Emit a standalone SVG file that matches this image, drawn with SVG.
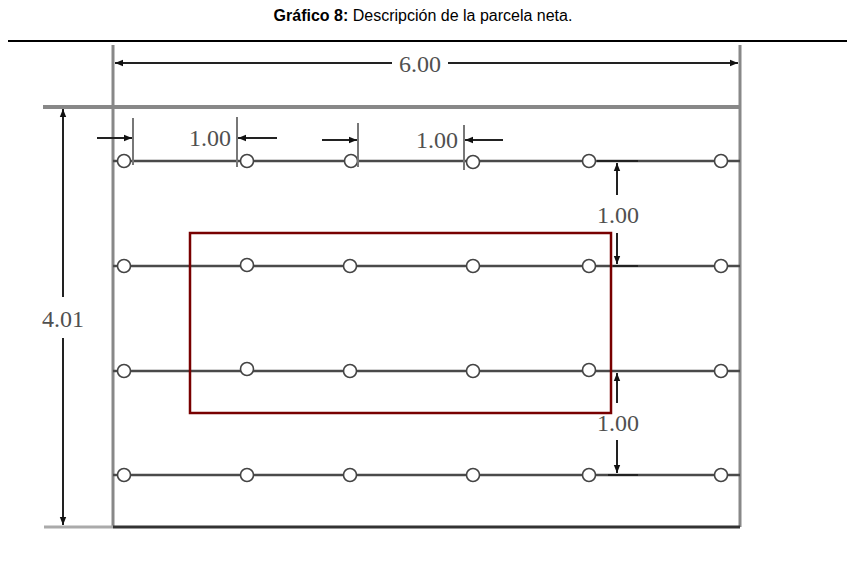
<svg xmlns="http://www.w3.org/2000/svg" width="847" height="581" viewBox="0 0 847 581">
<style>
.title{font-family:"Liberation Sans",Arial,sans-serif;font-size:16px;fill:#000}
.dim{font-family:"Liberation Serif","Times New Roman",serif;font-size:24px;fill:#505050}
.frame{stroke:#888;stroke-width:3;fill:none}
.row{stroke:#4a4a4a;stroke-width:2.5;fill:none}
.dl{stroke:#222;stroke-width:2;fill:none}
.tk{stroke:#777;stroke-width:2;fill:none}
.plant{fill:#fff;stroke:#444;stroke-width:1.6}
</style>
<defs>
<marker id="ah" viewBox="0 0 10 10" refX="10" refY="5" markerWidth="8" markerHeight="8" markerUnits="userSpaceOnUse" orient="auto-start-reverse">
<path d="M0,1 L10,5 L0,9 z" fill="#111"/>
</marker>
</defs>
<rect width="847" height="581" fill="#fff"/>
<g id="title">
<text class="title" x="423" y="21" text-anchor="middle"><tspan font-weight="bold">Gráfico 8:</tspan> Descripción de la parcela neta.</text>
<line x1="8" y1="41" x2="847" y2="41" stroke="#000" stroke-width="2"/>
</g>
<g id="frame">
<line class="frame" x1="113" y1="45" x2="113" y2="527"/>
<line class="frame" x1="740" y1="45" x2="740" y2="527"/>
<line x1="43" y1="107" x2="740" y2="107" stroke="#888" stroke-width="4"/>
<line x1="44" y1="527" x2="113" y2="527" stroke="#aaa" stroke-width="3"/>
<line x1="113" y1="527" x2="740" y2="527" stroke="#333" stroke-width="3"/>
</g>
<g id="connectors">
<line class="row" x1="113" y1="161" x2="740" y2="161"/>
<line class="row" x1="113" y1="266" x2="740" y2="266"/>
<line class="row" x1="113" y1="371" x2="740" y2="371"/>
<line class="row" x1="113" y1="475" x2="740" y2="475"/>
</g>
<g id="net-plot">
<rect x="190" y="233" width="421" height="180" fill="none" stroke="#780000" stroke-width="2.5"/>
</g>
<g id="plants">
<g id="p-1-1"><circle class="plant" cx="124" cy="161" r="6.5"/></g>
<g id="p-1-2"><circle class="plant" cx="247" cy="161" r="6.5"/></g>
<g id="p-1-3"><circle class="plant" cx="351" cy="161" r="6.5"/></g>
<g id="p-1-4"><circle class="plant" cx="473" cy="162" r="6.5"/></g>
<g id="p-1-5"><circle class="plant" cx="589" cy="161" r="6.5"/></g>
<g id="p-1-6"><circle class="plant" cx="721" cy="161" r="6.5"/></g>
<g id="p-2-1"><circle class="plant" cx="124" cy="266" r="6.5"/></g>
<g id="p-2-2"><circle class="plant" cx="247" cy="265" r="6.5"/></g>
<g id="p-2-3"><circle class="plant" cx="350" cy="266" r="6.5"/></g>
<g id="p-2-4"><circle class="plant" cx="473" cy="266" r="6.5"/></g>
<g id="p-2-5"><circle class="plant" cx="589" cy="266" r="6.5"/></g>
<g id="p-2-6"><circle class="plant" cx="721" cy="266" r="6.5"/></g>
<g id="p-3-1"><circle class="plant" cx="124" cy="371" r="6.5"/></g>
<g id="p-3-2"><circle class="plant" cx="247" cy="369" r="6.5"/></g>
<g id="p-3-3"><circle class="plant" cx="350" cy="371" r="6.5"/></g>
<g id="p-3-4"><circle class="plant" cx="473" cy="371" r="6.5"/></g>
<g id="p-3-5"><circle class="plant" cx="589" cy="370" r="6.5"/></g>
<g id="p-3-6"><circle class="plant" cx="721" cy="371" r="6.5"/></g>
<g id="p-4-1"><circle class="plant" cx="124" cy="475" r="6.5"/></g>
<g id="p-4-2"><circle class="plant" cx="247" cy="475" r="6.5"/></g>
<g id="p-4-3"><circle class="plant" cx="350" cy="475" r="6.5"/></g>
<g id="p-4-4"><circle class="plant" cx="473" cy="475" r="6.5"/></g>
<g id="p-4-5"><circle class="plant" cx="589" cy="475" r="6.5"/></g>
<g id="p-4-6"><circle class="plant" cx="721" cy="475" r="6.5"/></g>
</g>
<g id="dimensions">
<line class="dl" x1="392" y1="63" x2="115" y2="63" marker-end="url(#ah)"/>
<line class="dl" x1="448" y1="63" x2="738" y2="63" marker-end="url(#ah)"/>
<text class="dim" x="420" y="72" text-anchor="middle">6.00</text>
<line class="dl" x1="63" y1="297" x2="63" y2="109" marker-end="url(#ah)"/>
<line class="dl" x1="63" y1="338" x2="63" y2="525" marker-end="url(#ah)"/>
<text class="dim" x="63" y="327" text-anchor="middle">4.01</text>
<line class="tk" x1="133" y1="118" x2="133" y2="165"/>
<line class="dl" x1="97" y1="138" x2="132" y2="138" marker-end="url(#ah)"/>
<text class="dim" x="210" y="146" text-anchor="middle">1.00</text>
<line class="tk" x1="237" y1="117" x2="237" y2="167"/>
<line class="dl" x1="277" y1="138" x2="238" y2="138" marker-end="url(#ah)"/>
<line class="dl" x1="322" y1="140" x2="357" y2="140" marker-end="url(#ah)"/>
<line class="tk" x1="358" y1="123" x2="358" y2="167"/>
<text class="dim" x="437" y="148" text-anchor="middle">1.00</text>
<line class="tk" x1="464" y1="125" x2="464" y2="170"/>
<line class="dl" x1="503" y1="140" x2="465" y2="140" marker-end="url(#ah)"/>
<line class="dl" x1="597" y1="161" x2="638" y2="161"/>
<line class="dl" x1="617" y1="195" x2="617" y2="163" marker-end="url(#ah)"/>
<text class="dim" x="618" y="223" text-anchor="middle">1.00</text>
<line class="dl" x1="617" y1="233" x2="617" y2="264" marker-end="url(#ah)"/>
<line class="dl" x1="613" y1="266" x2="638" y2="266"/>
<line class="dl" x1="617" y1="403" x2="617" y2="373" marker-end="url(#ah)"/>
<text class="dim" x="618" y="431" text-anchor="middle">1.00</text>
<line class="dl" x1="617" y1="440" x2="617" y2="473" marker-end="url(#ah)"/>
<line class="dl" x1="608" y1="475" x2="638" y2="475"/>
</g>
</svg>
